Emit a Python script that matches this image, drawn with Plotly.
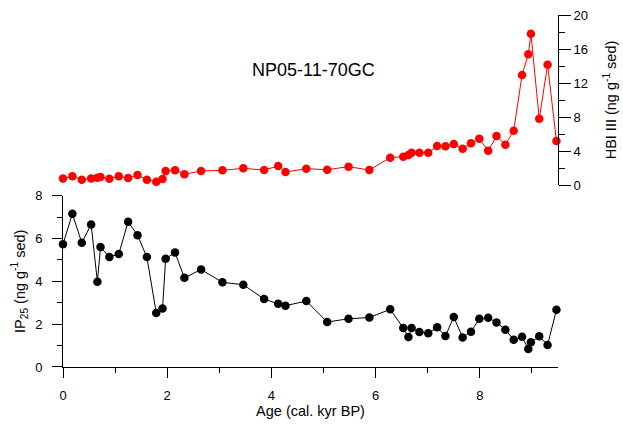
import plotly.graph_objects as go

age = [0.00, 0.18, 0.36, 0.54, 0.66, 0.72, 0.89, 1.07, 1.25, 1.43, 1.61, 1.79,
       1.91, 1.97, 2.15, 2.33, 2.65, 3.06, 3.46, 3.86, 4.13, 4.27, 4.67, 5.07,
       5.48, 5.88, 6.28, 6.53, 6.63, 6.69, 6.84, 7.01, 7.18, 7.34, 7.50, 7.67,
       7.83, 7.99, 8.16, 8.32, 8.49, 8.65, 8.81, 8.93, 8.98, 9.14, 9.30, 9.47]

ip25 = [5.73, 7.15, 5.80, 6.65, 3.98, 5.60, 5.13, 5.27, 6.78, 6.15, 5.13, 2.52,
        2.73, 5.05, 5.34, 4.16, 4.55, 3.95, 3.84, 3.17, 2.95, 2.86, 3.08, 2.10,
        2.25, 2.31, 2.69, 1.82, 1.40, 1.82, 1.63, 1.57, 1.85, 1.45, 2.33, 1.38,
        1.65, 2.25, 2.30, 2.08, 1.74, 1.27, 1.41, 0.84, 1.15, 1.43, 1.03, 2.67]

hbi3 = [0.78, 1.02, 0.63, 0.78, 0.86, 0.94, 0.75, 1.02, 0.82, 1.18, 0.63, 0.39,
        0.71, 1.65, 1.73, 1.26, 1.65, 1.73, 1.96, 1.76, 2.24, 1.53, 1.92, 1.80,
        2.16, 1.76, 3.22, 3.33, 3.53, 3.80, 3.80, 3.80, 4.59, 4.55, 4.82, 4.27,
        4.90, 5.45, 4.04, 5.76, 4.75, 6.39, 12.94, 15.37, 17.80, 7.80, 14.15, 5.18]

title_text = "NP05-11-70GC"
x_title = "Age (cal. kyr BP)"
y_title = "IP<sub>25</sub> (ng g<sup>-1</sup> sed)"
y2_title = "HBI III (ng g<sup>-1</sup> sed)"

FONT = "Liberation Sans, Arial, sans-serif"

fig = go.Figure()
fig.add_trace(go.Scatter(x=age, y=ip25, mode="lines+markers", yaxis="y",
                         cliponaxis=False,
                         line=dict(color="black", width=1),
                         marker=dict(color="black", size=8.5), showlegend=False))
fig.add_trace(go.Scatter(x=age, y=hbi3, mode="lines+markers", yaxis="y2",
                         cliponaxis=False,
                         line=dict(color="#ff0000", width=1),
                         marker=dict(color="#ff0000", size=8.5), showlegend=False))

axis_common = dict(showgrid=False, zeroline=False, showline=True, linecolor="black",
                   linewidth=1, ticks="outside", tickcolor="black", tickwidth=1,
                   automargin=False,
                   tickfont=dict(size=13, color="black", family=FONT))

fig.update_layout(
    width=623, height=429,
    margin=dict(l=62.7, r=65.3, t=15, b=61.5),
    paper_bgcolor="white", plot_bgcolor="white",
    font=dict(family=FONT, color="black"),
    xaxis=dict(range=[0, 9.5], dtick=2, tick0=0, ticklen=10,
               minor=dict(dtick=1, ticklen=5, ticks="outside", tickcolor="black"),
               anchor="y", ticklabelstandoff=6,
               title=dict(text=x_title, font=dict(size=14.5), standoff=4),
               **axis_common),
    yaxis=dict(domain=[0, 0.487], range=[0, 8], dtick=2, tick0=0, ticklen=10,
               minor=dict(dtick=1, ticklen=5, ticks="outside", tickcolor="black"),
               anchor="x", ticklabelstandoff=7,
               title=dict(text=y_title, font=dict(size=14.5), standoff=6),
               **axis_common),
    yaxis2=dict(domain=[0.517, 1], range=[0, 20], dtick=4, tick0=0, ticklen=12,
                minor=dict(dtick=2, ticklen=6, ticks="outside", tickcolor="black"),
                anchor="x", side="right",
                title=dict(text=y2_title, font=dict(size=14.5), standoff=18),
                **axis_common),
    annotations=[dict(text=title_text, x=0.506, y=0.844, xref="paper", yref="paper",
                      showarrow=False, font=dict(size=18, color="black", family=FONT),
                      xanchor="center", yanchor="middle")],
)

fig.write_html("out.html")
